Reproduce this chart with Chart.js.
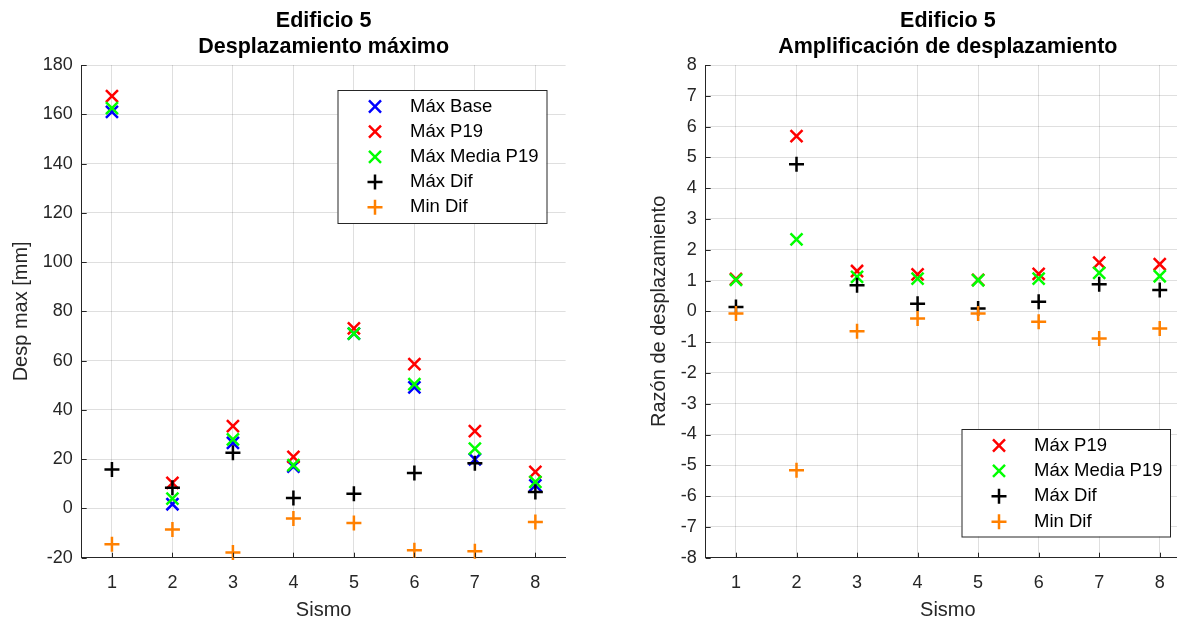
<!DOCTYPE html>
<html>
<head>
<meta charset="utf-8">
<script src="https://cdn.jsdelivr.net/npm/chart.js@4.4.1/dist/chart.umd.min.js"></script>
<style>
    html, body { margin: 0; padding: 0; background: #fff; overflow: hidden; width: 1177px; height: 619px; }
    #left { position: absolute; left: 0; top: 0; width: 588px; height: 619px; }
    #right { position: absolute; left: 588px; top: 0; width: 589px; height: 619px; overflow: hidden; }
</style>
</head>
<body>
<div id="left"><canvas id="desp-chart" width="588" height="619"></canvas></div>
<div id="right"><canvas id="amp-chart" width="602" height="619"></canvas></div>
<script>
// Sismos (x axis)
const sismos = [1, 2, 3, 4, 5, 6, 7, 8];

// Desplazamiento maximo [mm]
const maxBase     = [161.0, 1.7, 26.6, 17.0, 71.0, 49.1, 19.9, 9.4];
const maxP19      = [167.4, 10.4, 33.4, 20.9, 73.1, 58.6, 31.4, 14.8];
const maxMediaP19 = [162.5, 4.0, 28.0, 17.6, 71.0, 50.5, 24.3, 10.8];
const maxDif      = [15.8, 8.4, 22.6, 4.2, 6.0, 14.4, 18.3, 6.7];
const minDif      = [-14.5, -8.6, -17.9, -4.1, -5.9, -17.0, -17.4, -5.5];

// Amplificacion de desplazamiento (razon)
const ampP19      = [1.05, 5.69, 1.31, 1.20, 1.02, 1.22, 1.58, 1.53];
const ampMediaP19 = [1.02, 2.34, 1.12, 1.06, 1.01, 1.06, 1.25, 1.14];
const ampMaxDif   = [0.14, 4.78, 0.85, 0.25, 0.09, 0.31, 0.88, 0.69];
const ampMinDif   = [-0.07, -5.16, -0.65, -0.23, -0.07, -0.34, -0.88, -0.56];

// Tick labels
const despTicks = [-20, 0, 20, 40, 60, 80, 100, 120, 140, 160, 180];
const ampTicks = [-8, -7, -6, -5, -4, -3, -2, -1, 0, 1, 2, 3, 4, 5, 6, 7, 8];

const FONT = '"Liberation Sans", Arial, Helvetica, sans-serif';
const TEXT = '#262626';
const GRID = 'rgba(38, 38, 38, 0.15)';

function series(label, values, color, style) {
    return {
        label: label,
        data: sismos.map((s, i) => ({ x: s, y: values[i] })),
        pointStyle: style,
        pointRadius: style === 'crossRot' ? 8.5 : 7.5,
        pointHoverRadius: style === 'crossRot' ? 8.5 : 7.5,
        pointBorderWidth: 2.5,
        pointBorderColor: color,
        pointBackgroundColor: color,
        borderColor: color,
        showLine: false,
        clip: false
    };
}

function drawMarker(ctx, style, color, x, y) {
    ctx.save();
    ctx.strokeStyle = color;
    ctx.lineWidth = 2.5;
    ctx.beginPath();
    if (style === 'crossRot') {
        const d = 8.5 * Math.SQRT1_2;
        ctx.moveTo(x - d, y - d); ctx.lineTo(x + d, y + d);
        ctx.moveTo(x - d, y + d); ctx.lineTo(x + d, y - d);
    } else {
        ctx.moveTo(x - 7.5, y); ctx.lineTo(x + 7.5, y);
        ctx.moveTo(x, y - 7.5); ctx.lineTo(x, y + 7.5);
    }
    ctx.stroke();
    ctx.restore();
}

// Two-line bold title centred over the plot area
const plotTitle = {
    id: 'plotTitle',
    afterDraw(chart, args, opts) {
        const ctx = chart.ctx;
        const cx = (chart.chartArea.left + chart.chartArea.right) / 2;
        ctx.save();
        ctx.font = 'bold 21.5px ' + FONT;
        ctx.fillStyle = '#000';
        ctx.textAlign = 'center';
        ctx.textBaseline = 'middle';
        opts.lines.forEach((t, i) => ctx.fillText(t, cx, opts.y + i * opts.dy));
        ctx.restore();
    }
};

// Small inward tick marks on both axes
const innerTicks = {
    id: 'innerTicks',
    afterDraw(chart) {
        const ctx = chart.ctx;
        const { left, bottom } = chart.chartArea;
        ctx.save();
        ctx.strokeStyle = TEXT;
        ctx.lineWidth = 1;
        ctx.beginPath();
        chart.scales.x.ticks.forEach(t => {
            const px = Math.round(chart.scales.x.getPixelForValue(t.value)) + 0.5;
            ctx.moveTo(px, bottom); ctx.lineTo(px, bottom - 5);
        });
        chart.scales.y.ticks.forEach(t => {
            const py = Math.round(chart.scales.y.getPixelForValue(t.value)) + 0.5;
            ctx.moveTo(left, py); ctx.lineTo(left + 5, py);
        });
        ctx.stroke();
        ctx.restore();
    }
};

// Boxed legend like the original figure
const boxLegend = {
    id: 'boxLegend',
    afterDatasetsDraw(chart, args, opts) {
        const ctx = chart.ctx;
        ctx.save();
        ctx.fillStyle = '#fff';
        ctx.fillRect(opts.x, opts.y, opts.w, opts.h);
        ctx.strokeStyle = '#262626';
        ctx.lineWidth = 1;
        ctx.strokeRect(opts.x + 0.5, opts.y + 0.5, opts.w, opts.h);
        ctx.font = '18.5px ' + FONT;
        ctx.fillStyle = '#000';
        ctx.textAlign = 'left';
        ctx.textBaseline = 'middle';
        chart.data.datasets.forEach((ds, i) => {
            const y = opts.y + opts.first + i * opts.step;
            drawMarker(ctx, ds.pointStyle, ds.pointBorderColor, opts.markerX, y);
            ctx.fillText(ds.label, opts.textX, y);
        });
        ctx.restore();
    }
};

function xScale() {
    return {
        type: 'linear',
        min: 0.5,
        max: 8.5,
        afterBuildTicks: axis => { axis.ticks = sismos.map(v => ({ value: v })); },
        afterFit: axis => { axis.height = 61.3; },
        grid: { color: GRID, drawTicks: false },
        border: { color: TEXT, width: 1 },
        ticks: { color: TEXT, font: { family: FONT, size: 18 }, padding: 15 },
        title: { display: true, text: 'Sismo', color: TEXT, font: { family: FONT, size: 20 }, padding: { top: 0, bottom: -3 } }
    };
}

function yScale(tickValues, width, title, titlePad) {
    return {
        type: 'linear',
        min: tickValues[0],
        max: tickValues[tickValues.length - 1],
        afterBuildTicks: axis => { axis.ticks = tickValues.map(v => ({ value: v })); },
        afterFit: axis => { axis.width = width; },
        grid: { color: GRID, drawTicks: false },
        border: { color: TEXT, width: 1 },
        ticks: { color: TEXT, font: { family: FONT, size: 18 }, padding: 9 },
        title: { display: true, text: title, color: TEXT, font: { family: FONT, size: 20 }, padding: { top: titlePad, bottom: 0 } }
    };
}

const despSeries = [
    series('Máx Base', maxBase, '#0000ff', 'crossRot'),
    series('Máx P19', maxP19, '#ff0000', 'crossRot'),
    series('Máx Media P19', maxMediaP19, '#00ff00', 'crossRot'),
    series('Máx Dif', maxDif, '#000000', 'cross'),
    series('Min Dif', minDif, '#ff8000', 'cross')
];
// later series on top, as in the original plot order
despSeries.forEach((ds, i) => { ds.order = despSeries.length - i; });

new Chart(document.getElementById('desp-chart'), {
    type: 'scatter',
    data: { datasets: despSeries },
    options: {
        responsive: false,
        animation: false,
        layout: { padding: { top: 65, right: 22.4, left: 0, bottom: 0 } },
        scales: {
            x: xScale(),
            y: yScale(despTicks, 81.7, 'Desp max [mm]', 9)
        },
        plugins: {
            legend: { display: false },
            tooltip: { enabled: false },
            plotTitle: { lines: ['Edificio 5', 'Desplazamiento máximo'], y: 21, dy: 26 },
            boxLegend: { x: 337.5, y: 90, w: 209, h: 133, first: 16.5, step: 25.2, markerX: 375, textX: 410 }
        }
    },
    plugins: [innerTicks, plotTitle, boxLegend]
});

const ampSeries = [
    series('Máx P19', ampP19, '#ff0000', 'crossRot'),
    series('Máx Media P19', ampMediaP19, '#00ff00', 'crossRot'),
    series('Máx Dif', ampMaxDif, '#000000', 'cross'),
    series('Min Dif', ampMinDif, '#ff8000', 'cross')
];
ampSeries.forEach((ds, i) => { ds.order = ampSeries.length - i; });

// The right figure runs past the window edge (plot ends near x = 1190),
// so the canvas is wider than its clipped container.
const ampCanvas = document.getElementById('amp-chart');
const ampPlotRight = 602.2; // wanted chart-area right edge inside the canvas

function makeAmpChart(width) {
    ampCanvas.width = width;
    ampCanvas.height = 619;
    return new Chart(ampCanvas, {
        type: 'scatter',
        data: { datasets: ampSeries },
        options: {
            responsive: false,
            animation: false,
            layout: { padding: { top: 65, right: 0, left: 0, bottom: 0 } },
            scales: {
                x: xScale(),
                y: yScale(ampTicks, 117.7, 'Razón de desplazamiento', 59)
            },
            plugins: {
                legend: { display: false },
                tooltip: { enabled: false },
                plotTitle: { lines: ['Edificio 5', 'Amplificación de desplazamiento'], y: 21, dy: 26 },
                boxLegend: { x: 373.5, y: 429, w: 208.5, h: 107.5, first: 16.5, step: 25.4, markerX: 411, textX: 446 }
            }
        },
        plugins: [innerTicks, plotTitle, boxLegend]
    });
}

let ampChart = makeAmpChart(602);
const gap = ampChart.chartArea.right - ampPlotRight;
if (Math.abs(gap) > 0.5) {
    const w = Math.round(602 - gap);
    ampChart.destroy();
    ampChart = makeAmpChart(w);
}
</script>
</body>
</html>
